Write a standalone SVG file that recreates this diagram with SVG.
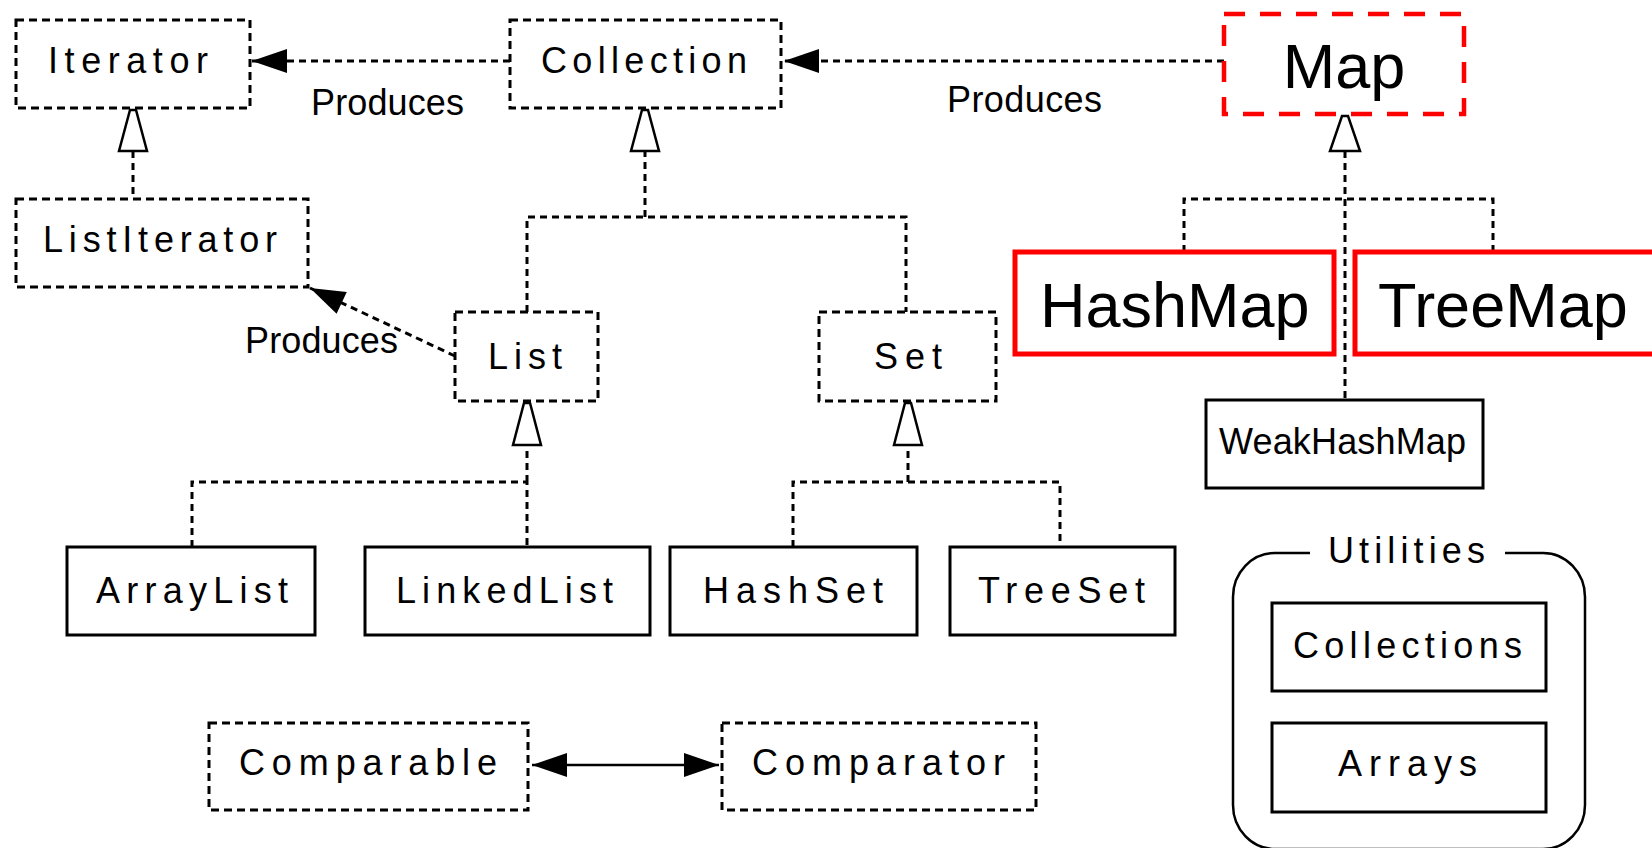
<svg xmlns="http://www.w3.org/2000/svg" width="1652" height="848" viewBox="0 0 1652 848">
<style>
.dash{fill:#fff;stroke:#000;stroke-width:3;stroke-dasharray:8 5}
.solid{fill:#fff;stroke:#000;stroke-width:3}
.red{fill:#fff;stroke:#f00;stroke-width:5}
.reddash{fill:#fff;stroke:#f00;stroke-width:4.5;stroke-dasharray:21 15}
.lbl{font-family:"Liberation Sans",Arial,sans-serif;font-size:36px;fill:#000}
.big{font-family:"Liberation Sans",Arial,sans-serif;font-size:63px;fill:#000}
.conn{fill:none;stroke:#000;stroke-width:3;stroke-dasharray:7 5}
.tri{fill:#fff;stroke:#000;stroke-width:2.5}
</style>
<defs>
<marker id="head" markerUnits="userSpaceOnUse" markerWidth="50" markerHeight="30" viewBox="-40 -15 50 30" refX="0" refY="0" orient="auto-start-reverse" overflow="visible">
<path d="M0,0 L-35,-12 L-35,12 Z" fill="#000"/>
</marker>
</defs>
<rect width="1652" height="848" fill="#fff"/>

<g id="connectors">
<line class="conn" x1="510" y1="61" x2="252" y2="61" marker-end="url(#head)"/>
<line class="conn" x1="1224" y1="61" x2="784" y2="61" marker-end="url(#head)"/>
<line class="conn" x1="455" y1="356" x2="310" y2="288" marker-end="url(#head)"/>
<path class="conn" d="M133,151 V199"/>
<path class="conn" d="M527,312 V217 H906 V312 M645,217 V151"/>
<path class="conn" d="M192,547 V482 H527 V547 M527,482 V445"/>
<path class="conn" d="M793,547 V482 H1060 V547 M908,482 V445"/>
<path class="conn" d="M1184,252 V199 H1493 V252 M1345,151 V400"/>
<line x1="532" y1="765" x2="719" y2="765" stroke="#000" stroke-width="2.5" marker-start="url(#head)" marker-end="url(#head)"/>
<polygon class="tri" points="130,110 136,110 147,151 119,151"/>
<polygon class="tri" points="642,110 648,110 659,151 631,151"/>
<polygon class="tri" points="524,403 530,403 541,445 513,445"/>
<polygon class="tri" points="905,403 911,403 922,445 894,445"/>
<polygon class="tri" points="1342,116 1348,116 1360,151 1330,151"/>
<text class="lbl" x="311" y="115" font-size="34" textLength="153" lengthAdjust="spacing">Produces</text>
<text class="lbl" x="947" y="112" font-size="34" textLength="155" lengthAdjust="spacing">Produces</text>
<text class="lbl" x="245" y="353" font-size="34" textLength="153" lengthAdjust="spacing">Produces</text>
</g>

<g id="Iterator"><rect class="dash" x="16" y="20" width="234" height="88"/><text class="lbl" x="48" y="73" textLength="160" lengthAdjust="spacing">Iterator</text></g>
<g id="Collection"><rect class="dash" x="510" y="20" width="271" height="88"/><text class="lbl" x="541" y="73" textLength="206" lengthAdjust="spacing">Collection</text></g>
<g id="Map"><rect class="reddash" x="1224" y="14" width="240" height="100"/><text class="big" x="1344" y="88" text-anchor="middle">Map</text></g>
<g id="ListIterator"><rect class="dash" x="16" y="199" width="292" height="88"/><text class="lbl" x="43" y="252" textLength="234" lengthAdjust="spacing">ListIterator</text></g>
<g id="List"><rect class="dash" x="455" y="312" width="143" height="89"/><text class="lbl" x="488" y="369" font-size="38" textLength="74" lengthAdjust="spacing">List</text></g>
<g id="Set"><rect class="dash" x="819" y="312" width="177" height="89"/><text class="lbl" x="874" y="369" font-size="38" textLength="68" lengthAdjust="spacing">Set</text></g>
<g id="HashMap"><rect class="red" x="1015" y="252" width="319" height="102"/><text class="big" x="1040" y="327">HashMap</text></g>
<g id="TreeMap"><rect class="red" x="1355" y="252" width="320" height="102"/><text class="big" x="1378" y="327">TreeMap</text></g>
<g id="WeakHashMap"><rect class="solid" x="1206" y="400" width="277" height="88"/><text class="lbl" x="1219" y="454" font-size="32" textLength="247" lengthAdjust="spacing">WeakHashMap</text></g>
<g id="ArrayList"><rect class="solid" x="67" y="547" width="248" height="88"/><text class="lbl" x="96" y="603" font-size="38" textLength="192" lengthAdjust="spacing">ArrayList</text></g>
<g id="LinkedList"><rect class="solid" x="365" y="547" width="285" height="88"/><text class="lbl" x="396" y="603" font-size="38" textLength="217" lengthAdjust="spacing">LinkedList</text></g>
<g id="HashSet"><rect class="solid" x="670" y="547" width="247" height="88"/><text class="lbl" x="703" y="603" font-size="38" textLength="180" lengthAdjust="spacing">HashSet</text></g>
<g id="TreeSet"><rect class="solid" x="950" y="547" width="225" height="88"/><text class="lbl" x="978" y="603" font-size="38" textLength="167" lengthAdjust="spacing">TreeSet</text></g>
<g id="Comparable"><rect class="dash" x="209" y="723" width="319" height="87"/><text class="lbl" x="239" y="775" font-size="37" textLength="258" lengthAdjust="spacing">Comparable</text></g>
<g id="Comparator"><rect class="dash" x="722" y="723" width="314" height="87"/><text class="lbl" x="752" y="775" font-size="37" textLength="253" lengthAdjust="spacing">Comparator</text></g>
<g id="Utilities">
<path d="M1310,553 H1275 A42,44 0 0 0 1233,597 V805 A42,44 0 0 0 1275,849 H1543 A42,44 0 0 0 1585,805 V597 A42,44 0 0 0 1543,553 H1505" fill="none" stroke="#000" stroke-width="2.5"/>
<text class="lbl" x="1328" y="563" font-size="38" textLength="157" lengthAdjust="spacing">Utilities</text>
</g>
<g id="Collections"><rect class="solid" x="1272" y="603" width="274" height="88"/><text class="lbl" x="1293" y="658" font-size="39" textLength="229" lengthAdjust="spacing">Collections</text></g>
<g id="Arrays"><rect class="solid" x="1272" y="723" width="274" height="89"/><text class="lbl" x="1338" y="776" font-size="38" textLength="139" lengthAdjust="spacing">Arrays</text></g>
</svg>
